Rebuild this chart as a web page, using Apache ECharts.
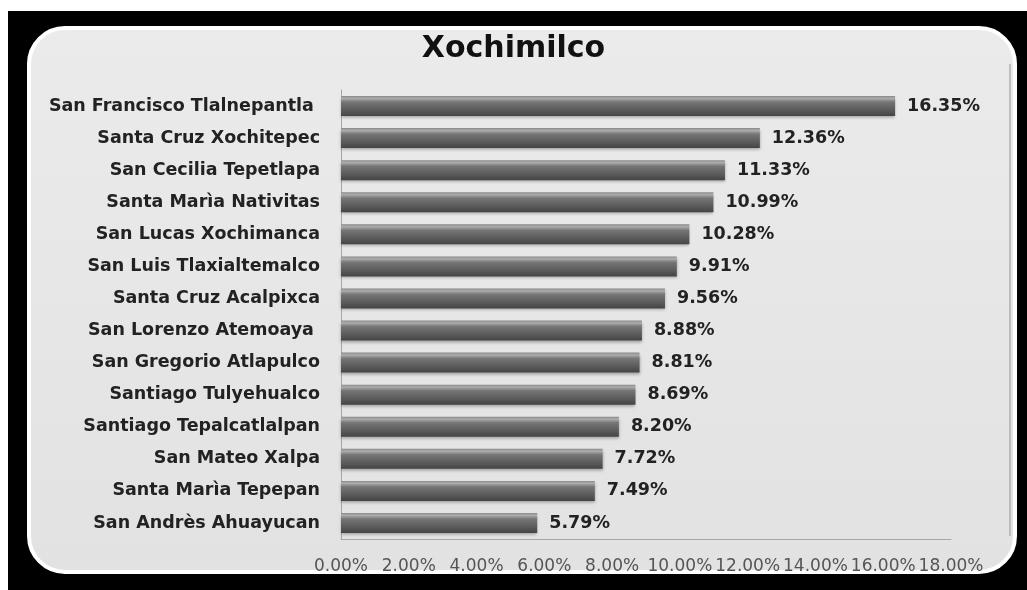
<!DOCTYPE html>
<html>
<head>
<meta charset="utf-8">
<script src="https://cdn.jsdelivr.net/npm/echarts@6/dist/echarts.min.js"></script>
<style>
  html, body { margin: 0; padding: 0; background: #fff; }
  #main { width: 1027px; height: 590px; }
</style>
</head>
<body>
<div id="main"></div>
<script>
// datos
const colonias = [
  'San Francisco Tlalnepantla ',
  'Santa Cruz Xochitepec',
  'San Cecilia Tepetlapa',
  'Santa Marìa Nativitas',
  'San Lucas Xochimanca',
  'San Luis Tlaxialtemalco',
  'Santa Cruz Acalpixca',
  'San Lorenzo Atemoaya ',
  'San Gregorio Atlapulco',
  'Santiago Tulyehualco',
  'Santiago Tepalcatlalpan',
  'San Mateo Xalpa',
  'Santa Marìa Tepepan',
  'San Andrès Ahuayucan'
];
const porcentajes = [16.35, 12.36, 11.33, 10.99, 10.28, 9.91, 9.56, 8.88, 8.81, 8.69, 8.20, 7.72, 7.49, 5.79];
const ejeMin = 0, ejeMax = 18, ejePaso = 2;

const fuente = 'DejaVu Sans';

const chart = echarts.init(document.getElementById('main'));

const option = {
  backgroundColor: '#ffffff',
  animation: false,
  graphic: [
    // marco negro
    { type: 'rect', z: -20, shape: { x: 8, y: 11, width: 1019, height: 579 }, style: { fill: '#000' } },
    // panel redondeado
    {
      type: 'rect', z: -10,
      shape: { x: 29, y: 28, width: 986, height: 544, r: 36 },
      style: {
        fill: new echarts.graphic.LinearGradient(0, 0, 0, 1, [
          { offset: 0, color: '#ebebeb' },
          { offset: 1, color: '#e2e2e2' }
        ]),
        stroke: '#ffffff', lineWidth: 4
      }
    },
    // linea gris interior del borde derecho
    {
      type: 'line', z: -9,
      shape: { x1: 1010, y1: 64, x2: 1010, y2: 536 },
      style: { stroke: '#b0b0b0', lineWidth: 1.5 }
    }
  ],
  title: {
    text: 'Xochimilco',
    left: 'center',
    top: 29,
    textStyle: { fontFamily: fuente, fontWeight: 'bold', fontSize: 30, color: '#111' }
  },
  grid: { left: 341, right: 76, top: 90, bottom: 51, containLabel: false },
  xAxis: {
    type: 'value',
    min: ejeMin, max: ejeMax, interval: ejePaso,
    splitLine: { show: false },
    axisTick: { show: false },
    axisLine: { show: true, lineStyle: { color: '#a6a6a6', width: 1 } },
    axisLabel: {
      margin: 19,
      fontFamily: fuente, fontSize: 17, color: '#555',
      formatter: v => v.toFixed(2) + '%'
    }
  },
  yAxis: {
    type: 'category',
    data: colonias,
    inverse: true,
    axisTick: { show: false },
    axisLine: { show: true, lineStyle: { color: '#a6a6a6', width: 1 } },
    axisLabel: {
      margin: 21,
      fontFamily: fuente, fontWeight: 'bold', fontSize: 17.5, color: '#222'
    }
  },
  series: [{
    type: 'bar',
    data: porcentajes,
    barWidth: 20,
    itemStyle: {
      color: new echarts.graphic.LinearGradient(0, 0, 0, 1, [
        { offset: 0, color: '#8a8a8a' },
        { offset: 0.12, color: '#adadad' },
        { offset: 0.3, color: '#767676' },
        { offset: 0.75, color: '#575757' },
        { offset: 1, color: '#444444' }
      ]),
      shadowColor: 'rgba(0,0,0,0.3)',
      shadowBlur: 3,
      shadowOffsetY: 2
    },
    label: {
      show: true,
      position: 'right',
      distance: 12,
      fontFamily: fuente, fontWeight: 'bold', fontSize: 17.5, color: '#222',
      formatter: p => p.value.toFixed(2) + '%'
    }
  }]
};

chart.setOption(option);
</script>
</body>
</html>
